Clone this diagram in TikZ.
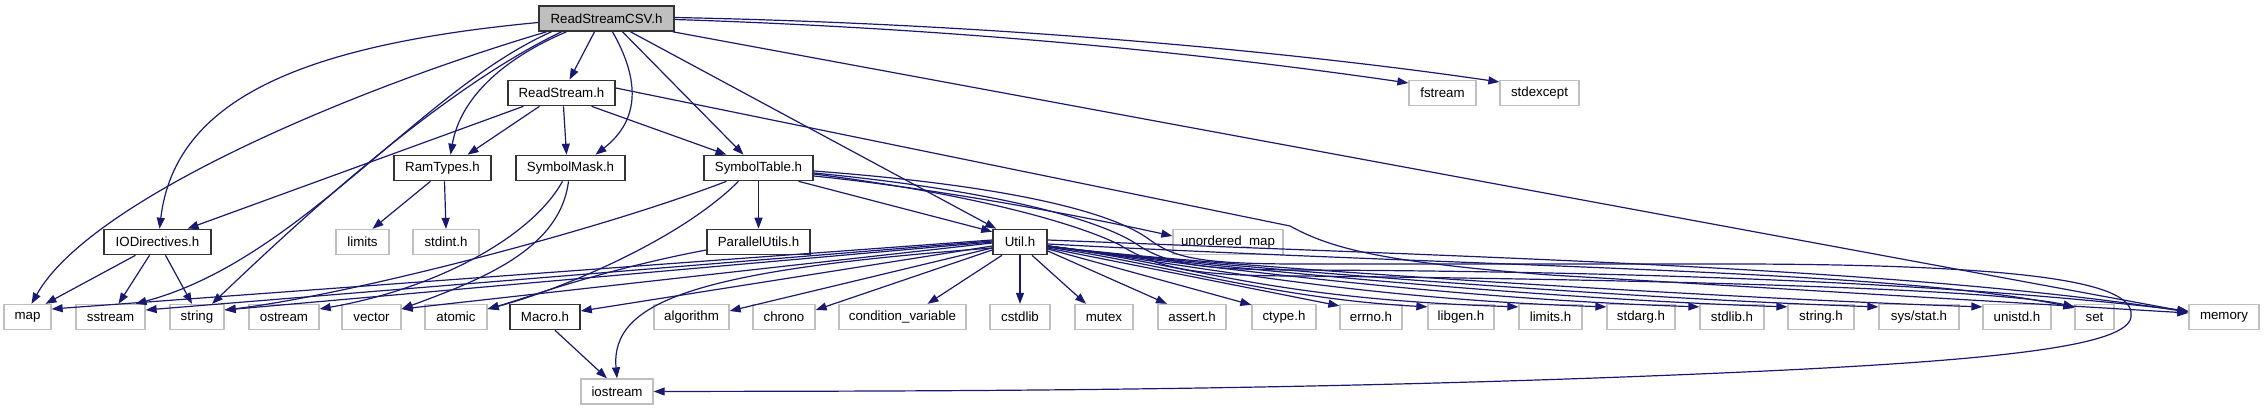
\documentclass[tikz,border=0pt]{standalone}
\usepackage{fontspec}
\setmainfont{Liberation Sans}
\usetikzlibrary{arrows.meta}
\definecolor{edgeblue}{HTML}{191970}
\definecolor{greyline}{HTML}{BFBFBF}
\begin{document}
\begin{tikzpicture}[x=1pt, y=-1pt,
  hdr/.style={rectangle, draw=greyline, line width=1.3pt, fill=white, minimum height=25pt, inner sep=0pt, font=\fontsize{13.3}{15}\selectfont},
  docu/.style={hdr, draw=black!80, line width=1.6pt},
  root/.style={docu, fill=greyline},
  inc/.style={draw=edgeblue, line width=1.2pt, -{Triangle[length=11pt,width=8pt]}},
  ]
 \useasboundingbox (0,0) rectangle (2264,411);
 % rows of headers
 \node [root, minimum width=135pt] (rscsv) at (606.5,18.5) {ReadStreamCSV.h};
 \node [docu, minimum width=107pt] (rs) at (561.5,93) {ReadStream.h};
 \node [hdr, minimum width=67pt] (fstream) at (1442.5,93) {fstream};
 \node [hdr, minimum width=79pt] (stdexcept) at (1539.5,93) {stdexcept};
 \node [docu, minimum width=97pt] (ramtypes) at (442.5,168) {RamTypes.h};
 \node [docu, minimum width=109pt] (symmask) at (570.5,168) {SymbolMask.h};
 \node [docu, minimum width=109pt] (symtab) at (758.5,168) {SymbolTable.h};
 \node [docu, minimum width=107pt] (iodir) at (157.5,242) {IODirectives.h};
 \node [hdr, minimum width=53pt] (limits) at (362.5,242) {limits};
 \node [hdr, minimum width=66pt] (stdint) at (446,242) {stdint.h};
 \node [docu, minimum width=103pt] (parutils) at (758.5,242) {ParallelUtils.h};
 \node [docu, minimum width=54pt] (util) at (1020,242) {Util.h};
 \node [hdr, minimum width=110pt] (unordmap) at (1228,242) {unordered\_map};
 \node [hdr, minimum width=47pt] (map) at (27.5,317) {map};
 \node [hdr, minimum width=69pt] (sstream) at (110.5,317) {sstream};
 \node [hdr, minimum width=54pt] (string) at (197,317) {string};
 \node [hdr, minimum width=70pt] (ostream) at (284,317) {ostream};
 \node [hdr, minimum width=59pt] (vector) at (371.5,317) {vector};
 \node [hdr, minimum width=62pt] (atomic) at (456,317) {atomic};
 \node [docu, minimum width=70pt] (macro) at (545,317) {Macro.h};
 \node [hdr, minimum width=75pt] (algorithm) at (691.5,317) {algorithm};
 \node [hdr, minimum width=62pt] (chrono) at (784,317) {chrono};
 \node [hdr, minimum width=127pt] (condvar) at (902.5,317) {condition\_variable};
 \node [hdr, minimum width=60pt] (cstdlib) at (1020,317) {cstdlib};
 \node [hdr, minimum width=58pt] (mutex) at (1104,317) {mutex};
 \node [hdr, minimum width=68pt] (assert) at (1192,317) {assert.h};
 \node [hdr, minimum width=64pt] (ctype) at (1284,317) {ctype.h};
 \node [hdr, minimum width=62pt] (errno) at (1371,317) {errno.h};
 \node [hdr, minimum width=66pt] (libgen) at (1461,317) {libgen.h};
 \node [hdr, minimum width=63pt] (limitsh) at (1550.5,317) {limits.h};
 \node [hdr, minimum width=68pt] (stdarg) at (1641,317) {stdarg.h};
 \node [hdr, minimum width=64pt] (stdlib) at (1732,317) {stdlib.h};
 \node [hdr, minimum width=66pt] (stringh) at (1821,317) {string.h};
 \node [hdr, minimum width=80pt] (sysstat) at (1919,317) {sys/stat.h};
 \node [hdr, minimum width=68pt] (unistd) at (2017,317) {unistd.h};
 \node [hdr, minimum width=39pt] (set) at (2094.5,317) {set};
 \node [hdr, minimum width=70pt] (memory) at (2224,317) {memory};
 \node [hdr, minimum width=72pt] (iostream) at (617,391.5) {iostream};

 % ReadStreamCSV.h
 \draw [inc] ([yshift=-4pt]rscsv.west) .. controls (300,45) and (175,100) .. ([xshift=2pt]iodir.north);
 \draw [inc] ([xshift=-60pt]rscsv.south) .. controls (350,90) and (90,200) .. ([xshift=4pt]map.north);
 \draw [inc] ([xshift=-55pt]rscsv.south) .. controls (420,90) and (300,260) .. ([xshift=25pt]sstream.north);
 \draw [inc] ([xshift=-45pt]rscsv.south) .. controls (440,90) and (300,220) .. ([xshift=15pt]string.north);
 \draw [inc] ([xshift=-40pt]rscsv.south) .. controls (500,60) and (460,100) .. ([xshift=8pt]ramtypes.north);
 \draw [inc] ([xshift=-12pt]rscsv.south) -- ([xshift=8pt]rs.north);
 \draw [inc] ([xshift=6pt]rscsv.south) .. controls (640,80) and (640,120) .. ([xshift=25pt]symmask.north);
 \draw [inc] ([xshift=16pt]rscsv.south) -- ([xshift=-15pt]symtab.north);
 \draw [inc] ([xshift=24pt]rscsv.south) -- ([xshift=4pt]util.north west);
 \draw [inc] ([yshift=-1pt]rscsv.east) .. controls (1000,30) and (1250,60) .. ([yshift=10pt]fstream.west);
 \draw [inc] ([yshift=1pt]rscsv.east) .. controls (1050,25) and (1350,60) .. ([yshift=11pt]stdexcept.west);
 \draw [inc] ([xshift=-2pt]rscsv.south east) -- ([yshift=5pt]memory.west);

 % ReadStream.h
 \draw [inc] ([xshift=-38pt]rs.south) -- ([xshift=30pt]iodir.north);
 \draw [inc] ([xshift=-22pt]rs.south) -- ([xshift=25pt]ramtypes.north);
 \draw [inc] ([xshift=2pt]rs.south) -- ([xshift=-4pt]symmask.north);
 \draw [inc] ([xshift=30pt]rs.south) -- ([xshift=-32pt]symtab.north);
 \draw [inc] ([yshift=5pt]rs.east) -- (1290,226) .. controls (1330,248) and (1380,262) .. (1550,275) -- ([yshift=4pt]memory.west);

 % RamTypes.h, IODirectives.h, SymbolMask.h
 \draw [inc] ([xshift=-12pt]ramtypes.south) -- ([xshift=10pt]limits.north);
 \draw [inc] ([xshift=2pt]ramtypes.south) -- (stdint.north);
 \draw [inc] ([xshift=-22pt]iodir.south) -- ([xshift=18pt]map.north);
 \draw [inc] ([xshift=-8pt]iodir.south) -- ([xshift=8pt]sstream.north);
 \draw [inc] ([xshift=8pt]iodir.south) -- ([xshift=-5pt]string.north);
 \draw [inc] ([xshift=-8pt]symmask.south) .. controls (530,240) and (430,290) .. ([yshift=8pt]ostream.east);
 \draw [inc] ([xshift=-2pt]symmask.south) .. controls (560,250) and (480,280) .. ([yshift=8pt]vector.east);

 % SymbolTable.h
 \draw [inc] (symtab.south) -- (parutils.north);
 \draw [inc] ([xshift=40pt]symtab.south) -- ([yshift=-3pt]util.north west);
 \draw [inc] ([xshift=-32pt]symtab.south) .. controls (600,230) and (350,295) .. ([yshift=7pt]string.east);
 \draw [inc] ([xshift=-20pt]symtab.south) .. controls (680,240) and (560,290) .. ([yshift=8pt]atomic.east);
 \draw [inc] ([yshift=-8pt]symtab.east) .. controls (950,190) and (1100,220) .. ([yshift=6pt]unordmap.west);
 \draw [inc] ([yshift=-3pt]symtab.east) .. controls (1000,185) and (1110,210) .. (1150,240)
   .. controls (1175,258) and (1200,264) .. (1300,264) -- (1744,264)
   .. controls (2080,265) and (2135,290) .. (2131,317) .. controls (2127,345) and (2010,360) .. (1744,372)
   .. controls (1300,392) and (900,391) .. (iostream.east);
 \draw [inc] ([yshift=-6pt]symtab.east) .. controls (980,195) and (1080,225) .. (1120,245)
   .. controls (1160,270) and (1200,276) .. (1300,276) .. controls (1700,280) and (2000,290) .. ([yshift=-3pt]set.north west);
 \draw [inc] ([yshift=-5pt]symtab.east) .. controls (990,190) and (1095,218) .. (1135,243)
   .. controls (1165,264) and (1200,270) .. (1300,270) .. controls (1800,272) and (2050,295) .. ([yshift=6pt]memory.west);

 % ParallelUtils.h, Macro.h
 \draw [inc] ([yshift=-8pt]parutils.west) .. controls (600,270) and (520,300) .. ([yshift=8pt]atomic.east);
 \draw [inc] ([xshift=10pt]macro.south) -- ([xshift=-10pt]iostream.north);

 % Util.h
 \draw [inc] ([yshift=2pt]util.west) -- ([yshift=8pt]map.east);
 \draw [inc] ([yshift=1pt]util.west) -- ([yshift=7pt]sstream.east);
 \draw [inc] (util.west) -- ([yshift=7pt]string.east);
 \draw [inc] ([yshift=-1pt]util.west) -- ([yshift=8pt]vector.east);
 \draw [inc] ([yshift=-4pt]util.west) -- ([yshift=6pt]macro.east);
 \draw [inc] ([yshift=-6pt]util.west) .. controls (700,270) and (610,300) .. (iostream.north);
 \draw [inc] ([yshift=-6pt]util.west) -- ([yshift=6pt]algorithm.east);
 \draw [inc] ([yshift=-8pt]util.west) -- ([yshift=7pt]chrono.east);
 \draw [inc] ([xshift=-18pt]util.south) -- ([xshift=25pt]condvar.north);
 \draw [inc] (util.south) -- (cstdlib.north);
 \draw [inc] ([xshift=12pt]util.south) -- ([xshift=-18pt]mutex.north);
 \draw [inc] ([yshift=-9pt]util.east) -- ([xshift=-25pt]assert.north);
 \draw [inc] ([yshift=-7pt]util.east) -- ([yshift=-1pt]ctype.north west);
 \draw [inc] ([yshift=-6pt]util.east) -- ([yshift=-2pt]errno.north west);
 \draw [inc] ([yshift=-5pt]util.east) .. controls +(120,18) and +(-150,-8) .. ([yshift=-3pt]libgen.north west);
 \foreach \hd in {limitsh,stdarg,stdlib,stringh,sysstat,unistd}
   \draw [inc] ([yshift=-4pt]util.east) .. controls +(150,20) and +(-250,-8) .. ([yshift=-3pt]\hd.north west);
 \draw [inc] ([yshift=-2pt]util.east) .. controls (1500,268) and (1900,270) .. ([yshift=-4pt]set.north west);
 \draw [inc] ([yshift=2pt]util.east) .. controls (1500,258) and (1900,268) .. ([yshift=5pt]memory.west);
\end{tikzpicture}
\end{document}
